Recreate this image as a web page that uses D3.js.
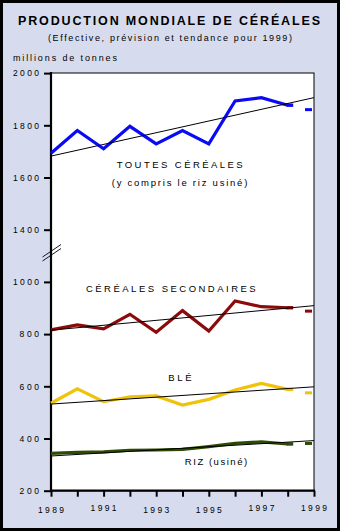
<!DOCTYPE html>
<meta charset="utf-8">
<script src="https://d3js.org/d3.v7.min.js"></script>
<style>
  body { margin: 0; background: #fff; }
  text { font-family: "Liberation Sans", Arial, sans-serif; fill: #000; }
</style>
<body>
<svg width="340" height="532"></svg>
<script>
// years and values (millions de tonnes), 1999 = forecast dash
var years = [1989, 1990, 1991, 1992, 1993, 1994, 1995, 1996, 1997, 1998];
var toutes = [1693, 1780, 1710, 1796, 1729, 1780, 1729, 1893, 1906, 1877];
var secondaires = [816, 835, 820, 876, 807, 890, 812, 927, 905, 901];
var ble = [535, 590, 541, 560, 563, 528, 550, 586, 611, 588];
var riz = [343, 347, 349, 355, 356, 358, 369, 381, 387, 379];
var forecast1999 = [1860, 888, 575, 381];
// trend lines: value at 1989 and 1999
var trendStart = [1682, 815, 532, 333];
var trendEnd = [1906, 909, 598, 392];
var seriesColors = ["#0a0af5", "#8b0a0a", "#f0c30a", "#2f4a05"];
var yTicks = [200, 400, 600, 800, 1000, 1400, 1600, 1800, 2000];
var xTickLabels = [1989, 1991, 1993, 1995, 1997, 1999];

var svg = d3.select('svg');

// frame
svg.append('rect').attr('x', 1.5).attr('y', 1.5).attr('width', 337).attr('height', 528)
  .attr('fill', '#d6dcee').attr('stroke', '#000').attr('stroke-width', 3);

var x = d3.scaleLinear().domain([1989, 1999]).range([51, 314]);
// broken axis: 1000 -> 1400 squeezed into one tick step
var y = d3.scaleLinear().domain([200, 1000, 1400, 2000]).range([490.7, 281.9, 229.7, 73.1]);

// plot area
svg.append('rect').attr('x', 51).attr('y', 73).attr('width', 263).attr('height', 417.7)
  .attr('fill', '#fff').attr('stroke', '#000').attr('stroke-width', 1);

// titles
svg.append('text').attr('x', 169).attr('y', 25).attr('text-anchor', 'middle')
  .attr('font-size', 12.5).attr('font-weight', 'bold')
  .attr('textLength', 302).attr('lengthAdjust', 'spacing')
  .text('PRODUCTION MONDIALE DE CÉRÉALES');
svg.append('text').attr('x', 170).attr('y', 41).attr('text-anchor', 'middle')
  .attr('font-size', 9).attr('textLength', 244).attr('lengthAdjust', 'spacing')
  .text('(Effective, prévision et tendance pour 1999)');
svg.append('text').attr('x', 13).attr('y', 61).attr('font-size', 9)
  .attr('textLength', 104).attr('lengthAdjust', 'spacing')
  .text('millions de tonnes');

// y axis
var yAxis = svg.append('g').attr('transform', 'translate(51,0)')
  .call(d3.axisLeft(y).tickValues(yTicks).tickSize(7).tickPadding(5).tickFormat(d3.format('d')));
yAxis.select('.domain').remove();
yAxis.selectAll('.tick line').attr('stroke-width', 2);
yAxis.selectAll('.tick text').attr('font-size', 8.5).attr('font-family', null)
  .attr('textLength', function(d){ return String(d).length * 6.5; })
  .attr('lengthAdjust', 'spacing');

// x axis
var xAxis = svg.append('g').attr('transform', 'translate(0,490.7)')
  .call(d3.axisBottom(x).ticks(10).tickSize(6).tickFormat(''));
xAxis.select('.domain').remove();
xAxis.selectAll('.tick line').attr('stroke-width', 2);
svg.append('g').selectAll('text').data(xTickLabels).join('text')
  .attr('x', function(d){ return x(d); })
  .attr('y', function(d, i){ return (i === 0 || i === 2 || i === 3) ? 513 : 511; })
  .attr('text-anchor', 'middle').attr('font-size', 8.5)
  .attr('textLength', 26).attr('lengthAdjust', 'spacing')
  .text(function(d){ return d; });

// axis lines (thicker left & bottom)
svg.append('line').attr('x1', 51).attr('x2', 51).attr('y1', 72).attr('y2', 491.7)
  .attr('stroke', '#000').attr('stroke-width', 2.2);
svg.append('line').attr('x1', 50).attr('x2', 315).attr('y1', 490.7).attr('y2', 490.7)
  .attr('stroke', '#000').attr('stroke-width', 2.2);

// axis break marks
var brk = svg.append('g').attr('stroke', '#000').attr('stroke-width', 0.9);
brk.append('line').attr('x1', 42.5).attr('y1', 257).attr('x2', 61).attr('y2', 244.5);
brk.append('line').attr('x1', 42.5).attr('y1', 261).attr('x2', 61).attr('y2', 248.5);

// series
var all = [toutes, secondaires, ble, riz];
var line = d3.line().x(function(d, i){ return x(years[i]); }).y(function(d){ return y(d); });

all.forEach(function(vals, k){
  svg.append('path').attr('d', line(vals)).attr('fill', 'none')
    .attr('stroke', seriesColors[k]).attr('stroke-width', 3.2)
    .attr('stroke-linejoin', 'miter');
  // 1998 estimate marker
  svg.append('line')
    .attr('x1', x(1998) - 1).attr('x2', x(1998) + 5.5)
    .attr('y1', y(vals[vals.length - 1])).attr('y2', y(vals[vals.length - 1]))
    .attr('stroke', seriesColors[k]).attr('stroke-width', 3.4);
  // 1999 forecast dash
  svg.append('line')
    .attr('x1', x(1999) - 9).attr('x2', x(1999) - 2)
    .attr('y1', y(forecast1999[k])).attr('y2', y(forecast1999[k]))
    .attr('stroke', seriesColors[k]).attr('stroke-width', 3);
  // trend
  svg.append('line')
    .attr('x1', x(1989)).attr('y1', y(trendStart[k]))
    .attr('x2', x(1999)).attr('y2', y(trendEnd[k]))
    .attr('stroke', '#000').attr('stroke-width', 1);
});

// series labels
var labels = [
  {t: 'TOUTES CÉRÉALES', cx: 179.7, by: 168.3, w: 126},
  {t: '(y compris le riz usiné)', cx: 179.5, by: 186, w: 135.6},
  {t: 'CÉRÉALES SECONDAIRES', cx: 170.8, by: 292.3, w: 169.7},
  {t: 'BLÉ', cx: 180, by: 380.7, w: 23.4},
  {t: 'RIZ (usiné)', cx: 216, by: 465, w: 62.3}
];
svg.append('g').selectAll('text').data(labels).join('text')
  .attr('x', function(d){ return d.cx; }).attr('y', function(d){ return d.by; })
  .attr('text-anchor', 'middle').attr('font-size', 9.5)
  .attr('textLength', function(d){ return d.w; }).attr('lengthAdjust', 'spacing')
  .text(function(d){ return d.t; });
</script>
